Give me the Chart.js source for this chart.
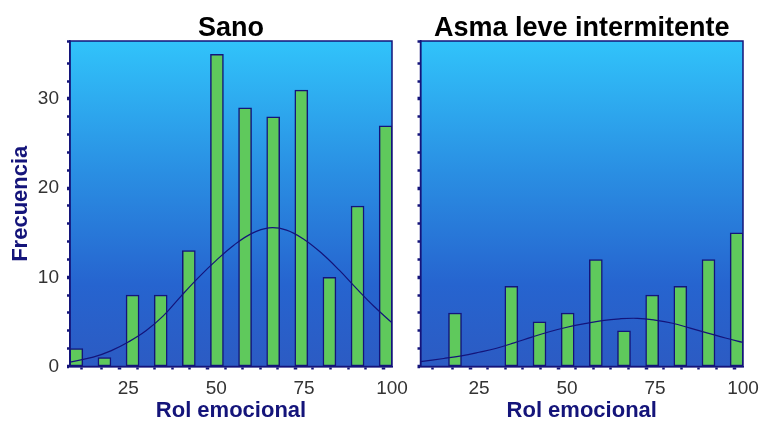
<!DOCTYPE html>
<html>
<head>
<meta charset="utf-8">
<title>Rol emocional</title>
<script src="https://cdn.jsdelivr.net/npm/chart.js@4"></script>
<style>
  body { margin: 0; background: #fff; }
  canvas { position: absolute; top: 0; }
  #sano { left: 0; }
  #asma { left: 400px; }
</style>
</head>
<body>
<canvas id="sano" width="420" height="433"></canvas>
<canvas id="asma" width="369" height="433"></canvas>
<script>
// histogram bins (centre of each bar on the Rol emocional scale)
const binCenters = [10.2, 18.2, 26.2, 34.2, 42.2, 50.2, 58.2, 66.2, 74.2, 82.2, 90.2, 98.2];
const sanoCounts = [2, 1, 8, 8, 13, 35, 29, 28, 31, 10, 18, 27];
const asmaCounts = [0, 6, 0, 9, 5, 6, 12, 4, 8, 9, 12, 15];

// normal curve drawn over each histogram
const curveX = [8.4, 15, 20, 25, 30, 35, 40, 45, 50, 55, 60, 65, 70, 75, 80, 85, 90, 95, 100];
const sanoCurve = [0.5, 1.05, 1.75, 2.75, 4.0, 5.7, 7.9, 10.0, 11.9, 13.6, 14.9, 15.55, 15.3, 14.25, 12.7, 10.8, 8.7, 6.7, 4.9];
const asmaCurve = [0.55, 0.9, 1.2, 1.6, 2.05, 2.65, 3.3, 3.9, 4.4, 4.8, 5.15, 5.35, 5.4, 5.2, 4.85, 4.3, 3.75, 3.2, 2.7];

const xTickLabels = [25, 50, 75, 100];
const yTickLabels = [0, 10, 20, 30];

const navy = '#14147a';
const fontFamily = '"Liberation Sans", Arial, sans-serif';

// blue gradient behind the bars plus a frame round the plot
const plotFrame = {
  id: 'plotFrame',
  beforeDraw(chart) {
    const { ctx, chartArea: a } = chart;
    const g = ctx.createLinearGradient(0, a.top, 0, a.bottom);
    g.addColorStop(0, '#31c3fa');
    g.addColorStop(0.4, '#2a8fe3');
    g.addColorStop(0.75, '#2664cf');
    g.addColorStop(1, '#2c5bc3');
    ctx.save();
    ctx.fillStyle = g;
    ctx.fillRect(a.left, a.top, a.width, a.height);
    ctx.restore();
  },
  afterDraw(chart) {
    const { ctx, chartArea: a } = chart;
    ctx.save();
    ctx.strokeStyle = navy;
    ctx.lineWidth = 1.5;
    ctx.strokeRect(a.left, a.top, a.width, a.height);
    ctx.restore();
  }
};

// bigger dots on the labelled ticks
const dotWidth = labels => c => (c.tick && labels.includes(c.tick.value)) ? 3.5 : 2.5;

function panel(title, counts, curve, showYTitle, yWidth, rightPad) {
  return {
    type: 'bar',
    data: {
      datasets: [
        {
          type: 'line',
          data: curveX.map((x, i) => ({ x: x, y: curve[i] })),
          borderColor: navy,
          borderWidth: 1.2,
          pointRadius: 0,
          tension: 0.4,
          order: 1
        },
        {
          type: 'bar',
          data: binCenters.map((x, i) => ({ x: x, y: counts[i] })),
          backgroundColor: '#5fc95c',
          borderColor: navy,
          borderWidth: 1.5,
          borderSkipped: false,
          barThickness: 13,
          order: 2
        }
      ]
    },
    options: {
      responsive: false,
      animation: false,
      layout: { padding: { left: 0, right: rightPad, top: 0, bottom: 0 } },
      plugins: {
        legend: { display: false },
        tooltip: { enabled: false },
        title: {
          display: true,
          text: title,
          fullSize: false,
          color: '#000',
          font: { family: fontFamily, size: 27, weight: 'bold', lineHeight: 0.8 },
          padding: { top: 17.7, bottom: 1.7 }
        }
      },
      scales: {
        x: {
          type: 'linear',
          min: 8.4,
          max: 100,
          offset: false,
          ticks: {
            stepSize: 5,
            autoSkip: false,
            maxRotation: 0,
            padding: 8,
            color: '#333',
            font: { family: fontFamily, size: 19 },
            callback: v => xTickLabels.includes(v) ? v : ''
          },
          grid: {
            drawOnChartArea: false,
            tickLength: 3,
            tickColor: navy,
            tickWidth: dotWidth(xTickLabels)
          },
          border: { color: navy, width: 1.5 },
          title: {
            display: true,
            text: 'Rol emocional',
            color: navy,
            font: { family: fontFamily, size: 22, weight: 'bold' },
            padding: { top: 0, bottom: 9 }
          },
          afterFit: s => { s.height = 66.5; }
        },
        y: {
          min: 0,
          max: 36.5,
          ticks: {
            stepSize: 2,
            autoSkip: false,
            padding: 8,
            color: '#333',
            font: { family: fontFamily, size: 19 },
            callback: v => (showYTitle && yTickLabels.includes(v)) ? v : ''
          },
          grid: {
            drawOnChartArea: false,
            tickLength: 3,
            tickColor: navy,
            tickWidth: dotWidth(yTickLabels)
          },
          border: { color: navy, width: 1.5 },
          title: {
            display: showYTitle,
            text: 'Frecuencia',
            color: navy,
            font: { family: fontFamily, size: 22, weight: 'bold' },
            padding: { top: 8, bottom: 0 }
          },
          afterFit: s => { s.width = yWidth; }
        }
      }
    },
    plugins: [plotFrame]
  };
}

const sanoChart = new Chart(
  document.getElementById('sano'),
  panel('Sano', sanoCounts, sanoCurve, true, 70, 28)
);

const asmaChart = new Chart(
  document.getElementById('asma'),
  panel('Asma leve intermitente', asmaCounts, asmaCurve, false, 20.5, 26)
);
</script>
</body>
</html>
